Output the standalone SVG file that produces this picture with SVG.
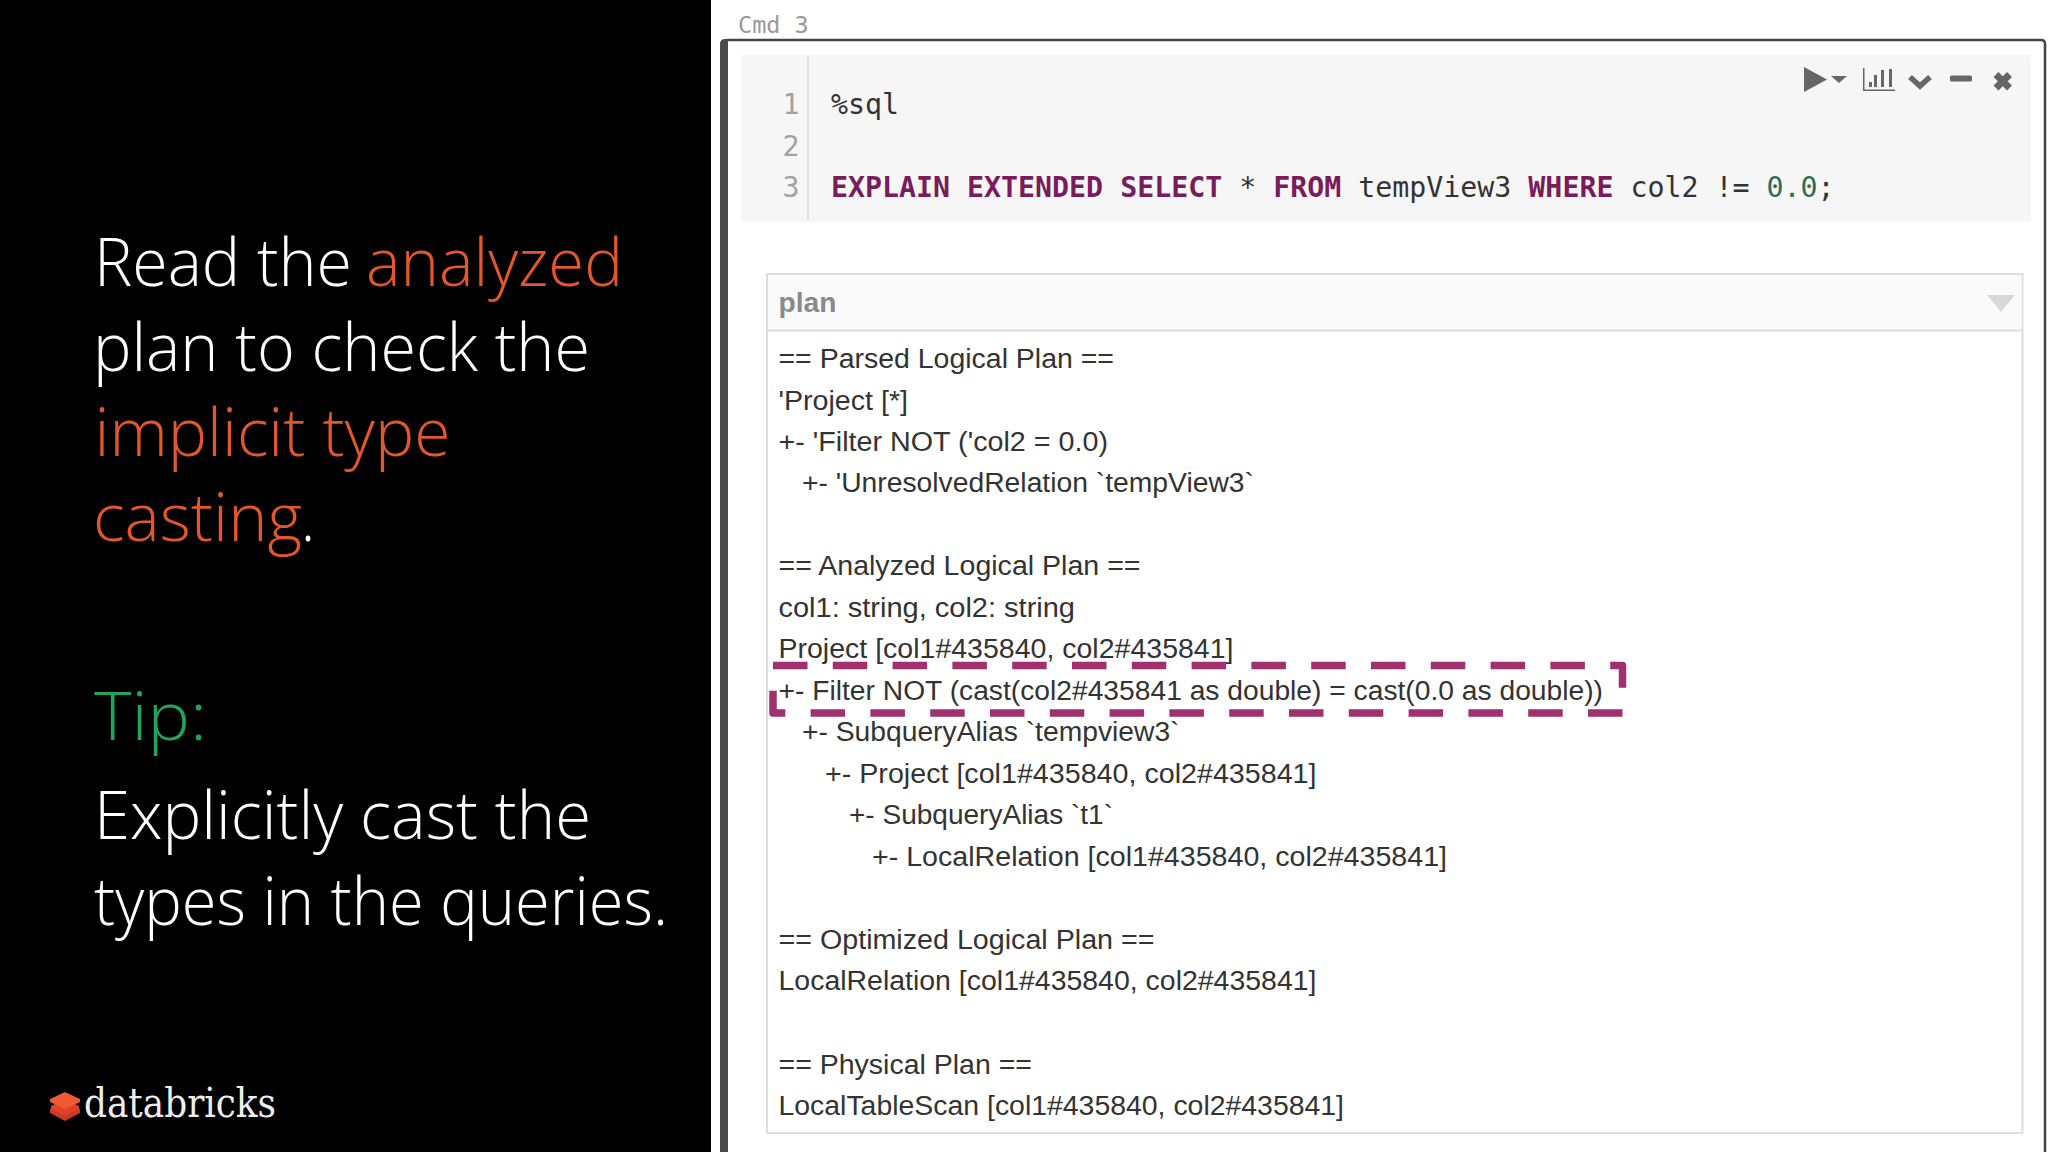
<svg xmlns="http://www.w3.org/2000/svg" width="2048" height="1152" viewBox="0 0 2048 1152">
<style>
.big{font-family:"Open Sans","Noto Sans",sans-serif;font-weight:300;font-size:66px}
.w{fill:#fff}.o{fill:#e4572a}.g{fill:#22a45c}
.mono{font-family:"DejaVu Sans Mono",monospace;font-size:28.25px;fill:#333}
.ln{fill:#a2a2a2;text-anchor:end}
.kw{font-weight:bold;fill:#7a1c5c}
.num{fill:#2a6e55}
.pl{font-family:"Liberation Sans",Arial,sans-serif;font-size:28.4px;fill:#333}
.ic{fill:#666}
</style>
<rect width="2048" height="1152" fill="#fff"/>
<rect width="711" height="1152" fill="#000"/>
<g id="slide-text">
<text class="big w" x="94" y="286" textLength="258" lengthAdjust="spacingAndGlyphs">Read the</text>
<text class="big o" x="366" y="286" textLength="257" lengthAdjust="spacingAndGlyphs">analyzed</text>
<text class="big w" x="93" y="371" textLength="497" lengthAdjust="spacingAndGlyphs">plan to check the</text>
<text class="big o" x="94.5" y="456" textLength="356" lengthAdjust="spacingAndGlyphs">implicit type</text>
<text class="big o" x="93" y="541" textLength="209" lengthAdjust="spacingAndGlyphs">casting</text>
<text class="big w" x="301" y="541" textLength="14" lengthAdjust="spacingAndGlyphs">.</text>
<text class="big g" x="94" y="740" textLength="113" lengthAdjust="spacingAndGlyphs">Tip:</text>
<text class="big w" x="94" y="839" textLength="497" lengthAdjust="spacingAndGlyphs">Explicitly cast the</text>
<text class="big w" x="94" y="925" textLength="574" lengthAdjust="spacingAndGlyphs">types in the queries.</text>
</g>
<g id="logo">
<path d="M65 1102 L50 1109 V1113 L65 1121 L80 1113 V1109Z" fill="#c93a22"/>
<path d="M65 1097 L50 1104 V1108 L65 1115 L80 1108 V1104Z" fill="#000"/>
<path d="M65 1099 L51 1106 V1109 L65 1116 L79 1109 V1106Z" fill="#e0412a"/>
<path d="M65 1092 L80 1099 V1102 L65 1109 L50 1102 V1099Z" fill="#ef5a33"/>
<text x="84" y="1117" font-family="DejaVu Serif,serif" font-size="41" fill="#eee" textLength="192" lengthAdjust="spacingAndGlyphs">databricks</text>
</g>
<g id="cell">
<text x="738" y="32.5" font-family="DejaVu Sans Mono,monospace" font-size="23.5" fill="#999">Cmd 3</text>
<path d="M724 1152 V44 Q724 40 728 40 H2041 Q2045 40 2045 44 V1152" fill="none" stroke="#444" stroke-width="2.5"/>
<path d="M720 1152 V44 Q720 39 725 39 H728 V1152Z" fill="#4a4a4a"/>
</g>
<g id="editor">
<rect x="741" y="55" width="1290" height="167" rx="3" fill="#f6f6f6"/>
<rect x="807" y="56" width="2" height="164" fill="#e2e2e2"/>
<text class="mono ln" x="799.5" y="114">1</text>
<text class="mono ln" x="799.5" y="156">2</text>
<text class="mono ln" x="799.5" y="197">3</text>
<text class="mono" x="831" y="114">%sql</text>
<text class="mono" x="831" y="197" xml:space="preserve"><tspan class="kw">EXPLAIN EXTENDED SELECT</tspan> * <tspan class="kw">FROM</tspan> tempView3 <tspan class="kw">WHERE</tspan> col2 != <tspan class="num">0.0</tspan>;</text>
</g>
<g id="toolbar">
<path class="ic" d="M1804 67 L1827 79.5 L1804 92Z"/>
<path class="ic" d="M1831 76 H1847 L1839 83Z"/>
<path class="ic" d="M1863 68 H1864.5 V89.5 H1895 V91 H1863Z"/>
<rect class="ic" x="1869" y="82" width="3" height="5"/>
<rect class="ic" x="1874" y="75" width="3" height="12"/>
<rect class="ic" x="1881" y="70" width="3" height="17"/>
<rect class="ic" x="1889" y="69" width="3" height="18"/>
<path d="M1910 77 L1920 86 L1930 77" fill="none" stroke="#666" stroke-width="5.5"/>
<rect class="ic" x="1950" y="75.5" width="22" height="6" rx="1.5"/>
<path d="M1996 74.5 L2009.5 88 M2009.5 74.5 L1996 88" fill="none" stroke="#666" stroke-width="7"/>
</g>
<g id="plan-table">
<rect x="767" y="274" width="1255.5" height="859" fill="#fff" stroke="#ddd" stroke-width="2"/>
<rect x="768" y="275" width="1253.5" height="55" fill="#fbfafa"/>
<path d="M767 330.5 H2023" stroke="#ddd" stroke-width="2"/>
<text x="778.5" y="312" font-family="Liberation Sans,Arial,sans-serif" font-size="28.2" font-weight="bold" fill="#8a8a8a">plan</text>
<path d="M1987 295 H2015 L2001 312Z" fill="#d8d8d8"/>
<text class="pl" x="778.5" y="368" textLength="335.5" lengthAdjust="spacingAndGlyphs">== Parsed Logical Plan ==</text>
<text class="pl" x="778.5" y="409.5" textLength="129.5" lengthAdjust="spacingAndGlyphs">'Project [*]</text>
<text class="pl" x="778.5" y="451" textLength="329.5" lengthAdjust="spacingAndGlyphs">+- 'Filter NOT ('col2 = 0.0)</text>
<text class="pl" x="802" y="492.4" textLength="452" lengthAdjust="spacingAndGlyphs">+- 'UnresolvedRelation `tempView3`</text>
<text class="pl" x="778.5" y="575.2" textLength="362" lengthAdjust="spacingAndGlyphs">== Analyzed Logical Plan ==</text>
<text class="pl" x="778.5" y="616.8" textLength="296.5" lengthAdjust="spacingAndGlyphs">col1: string, col2: string</text>
<text class="pl" x="778.5" y="658.2" textLength="455" lengthAdjust="spacingAndGlyphs">Project [col1#435840, col2#435841]</text>
<text class="pl" x="778.5" y="699.7" textLength="824.5" lengthAdjust="spacingAndGlyphs">+- Filter NOT (cast(col2#435841 as double) = cast(0.0 as double))</text>
<text class="pl" x="802" y="741" textLength="377.5" lengthAdjust="spacingAndGlyphs">+- SubqueryAlias `tempview3`</text>
<text class="pl" x="825" y="782.6" textLength="491.5" lengthAdjust="spacingAndGlyphs">+- Project [col1#435840, col2#435841]</text>
<text class="pl" x="849" y="824.2" textLength="264" lengthAdjust="spacingAndGlyphs">+- SubqueryAlias `t1`</text>
<text class="pl" x="872" y="865.7" textLength="575" lengthAdjust="spacingAndGlyphs">+- LocalRelation [col1#435840, col2#435841]</text>
<text class="pl" x="778.5" y="948.8" textLength="376" lengthAdjust="spacingAndGlyphs">== Optimized Logical Plan ==</text>
<text class="pl" x="778.5" y="990.4" textLength="538" lengthAdjust="spacingAndGlyphs">LocalRelation [col1#435840, col2#435841]</text>
<text class="pl" x="778.5" y="1073.5" textLength="253.5" lengthAdjust="spacingAndGlyphs">== Physical Plan ==</text>
<text class="pl" x="778.5" y="1115" textLength="565.5" lengthAdjust="spacingAndGlyphs">LocalTableScan [col1#435840, col2#435841]</text>
</g>
<g id="connectors">
<path d="M773 665.5 H1622.5 V713 H773 V665.5" fill="none" stroke="#a0306f" stroke-width="7.5" stroke-dasharray="34.5 25.3" stroke-linejoin="round"/>
</g>
</svg>
